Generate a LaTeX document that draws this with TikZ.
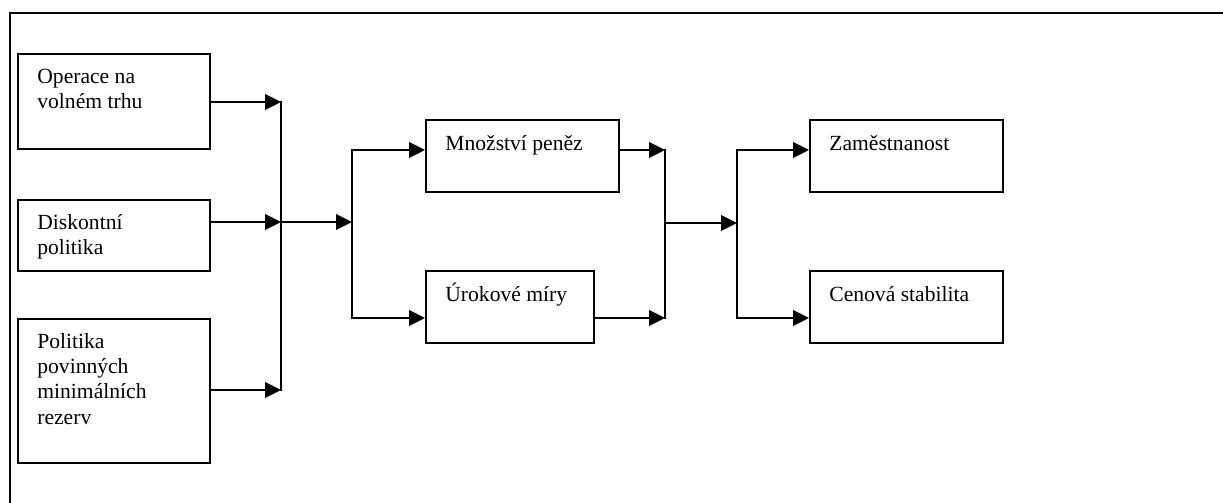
\documentclass[tikz,border=0pt]{standalone}
\usepackage{fontspec}
\setmainfont{Liberation Serif}
\usetikzlibrary{arrows.meta}
\newcommand{\px}{0.5556pt}
\begin{document}
\begin{tikzpicture}[x=\px, y=-\px,
    box/.style={draw, line width=1.1pt, inner sep=0pt, anchor=north west},
    txt/.style={inner sep=0pt, anchor=north west, align=left,
      font=\fontsize{12pt}{13.9pt}\selectfont},
    wire/.style={line width=1.1pt, line cap=rect},
    arr/.style={line width=1.1pt, -{Triangle[length=8.8pt,width=8.6pt]}}]
      \useasboundingbox (0,0) rectangle (1223,503);
      \draw[wire] (10,503) -- (10,13) -- (1223,13);
      % instruments
      \node[box, minimum width=192*\px, minimum height=95*\px] (b1) at (17,53) {};
      \node[box, minimum width=192*\px, minimum height=71*\px] (b2) at (17,199) {};
      \node[box, minimum width=192*\px, minimum height=144*\px] (b3) at (17,318) {};
      % transmission
      \node[box, minimum width=193*\px, minimum height=72*\px] (b4) at (425,119) {};
      \node[box, minimum width=168*\px, minimum height=72*\px] (b5) at (425,270) {};
      % goals
      \node[box, minimum width=193*\px, minimum height=72*\px] (b6) at (809,119) {};
      \node[box, minimum width=193*\px, minimum height=72*\px] (b7) at (809,270) {};
      \node[txt] (t1) at ([shift={(20,9)}]b1.north west) {\rule{0pt}{12pt}Operace na\\volném trhu};
      \node[txt] (t2) at ([shift={(20,9)}]b2.north west) {\rule{0pt}{12pt}Diskontní\\politika};
      \node[txt] (t3) at ([shift={(20,9)}]b3.north west) {\rule{0pt}{12pt}Politika\\povinných\\minimálních\\rezerv};
      \node[txt] (t4) at ([shift={(20,10)}]b4.north west) {\rule{0pt}{12pt}Množství peněz};
      \node[txt] (t5) at ([shift={(20,10)}]b5.north west) {\rule{0pt}{12pt}Úrokové míry};
      \node[txt] (t6) at ([shift={(20,10)}]b6.north west) {\rule{0pt}{12pt}Zaměstnanost};
      \node[txt] (t7) at ([shift={(20,10)}]b7.north west) {\rule{0pt}{12pt}Cenová stabilita};
      % joints
      \coordinate (s1) at (281,102);
      \coordinate (s2) at (281,222);
      \coordinate (s3) at (281,390);
      \coordinate (f1) at (352,222);
      \coordinate (f1a) at (352,150);
      \coordinate (f1b) at (352,318);
      \coordinate (s4) at (665,150);
      \coordinate (s5) at (665,223);
      \coordinate (s6) at (665,318);
      \coordinate (f2) at (737,223);
      \coordinate (f2a) at (737,150);
      \coordinate (f2b) at (737,318);
      \draw[arr] (b1.east |- s1) -- (s1);
      \draw[arr] (b2.east |- s2) -- (s2);
      \draw[arr] (b3.east |- s3) -- (s3);
      \draw[wire] (s1) -- (s3);
      \draw[arr] (s2) -- (f1);
      \draw[wire] (f1a) -- (f1b);
      \draw[arr] (f1a) -- (b4.west |- f1a);
      \draw[arr] (f1b) -- (b5.west |- f1b);
      \draw[arr] (b4.east |- s4) -- (s4);
      \draw[arr] (b5.east |- s6) -- (s6);
      \draw[wire] (s4) -- (s6);
      \draw[arr] (s5) -- (f2);
      \draw[wire] (f2a) -- (f2b);
      \draw[arr] (f2a) -- (b6.west |- f2a);
      \draw[arr] (f2b) -- (b7.west |- f2b);
    \end{tikzpicture}
\end{document}
